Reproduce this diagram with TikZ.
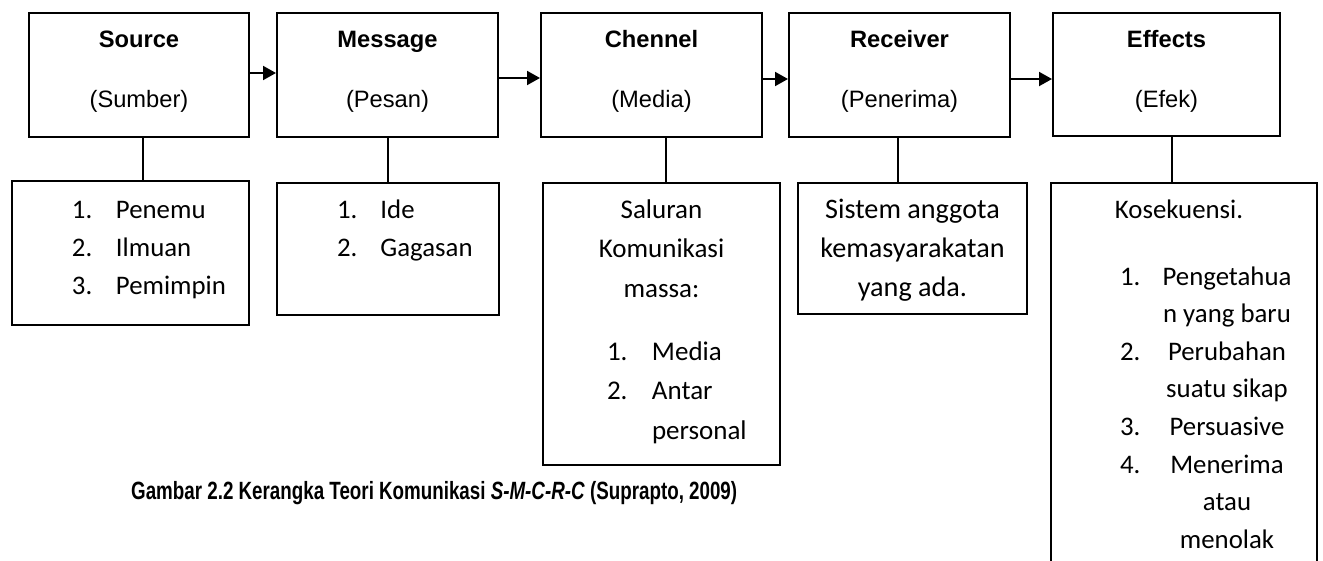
\documentclass[tikz,border=0pt]{standalone}
\usepackage{fontspec}
\setmainfont{Carlito}
\newfontfamily\arial{Liberation Sans}
\usepackage{graphicx}
\usetikzlibrary{arrows.meta}
\newcommand{\mktop}[4]{\parbox[t][#2][t]{#1}{\centering\arial\fontsize{23.7}{60}\selectfont\rule{0pt}{34pt}\textbf{#3}\\#4}}
\newcommand{\itm}[4]{\hspace*{#1}\makebox[#2][l]{#3}#4}
\tikzset{
  topbox/.style={draw, line width=2pt, inner sep=0pt, anchor=north west},
  lowbox/.style={draw, line width=2pt, inner sep=0pt, anchor=north west},
  link/.style={line width=2pt},
  arr/.style={line width=2pt, -{Triangle[length=13pt,width=14pt]}}
}
\begin{document}
\begin{tikzpicture}[x=1pt,y=-1pt]
\useasboundingbox (0,0) rectangle (1323,560);
\fill[white] (0,0) rectangle (1323,560);
\clip (0,0) rectangle (1323,560);
% top boxes
\node[topbox] (sT) at (28,12) {\mktop{220pt}{124pt}{Source}{(Sumber)}};
\node[topbox] (mT) at (276,12) {\mktop{221pt}{124pt}{Message}{(Pesan)}};
\node[topbox] (cT) at (540,12) {\mktop{221pt}{124pt}{Chennel}{(Media)}};
\node[topbox] (rT) at (788,12) {\mktop{221pt}{124pt}{Receiver}{(Penerima)}};
\node[topbox] (eT) at (1052,12) {\mktop{227pt}{123pt}{Effects}{(Efek)}};
% lower boxes
\node[lowbox] (sL) at (11,180) {\parbox[t][144pt][t]{237pt}{\fontsize{26.8}{38}\selectfont\lineskiplimit=-100pt
\rule{0pt}{37pt}\itm{60pt}{44pt}{1.}{Penemu}\\
\itm{60pt}{44pt}{2.}{Ilmuan}\\
\itm{60pt}{44pt}{3.}{Pemimpin}}};
\node[lowbox] (mL) at (276,182) {\parbox[t][132pt][t]{222pt}{\fontsize{26.8}{38}\selectfont\lineskiplimit=-100pt
\rule{0pt}{35pt}\itm{60pt}{43.5pt}{1.}{Ide}\\
\itm{60pt}{43.5pt}{2.}{Gagasan}}};
\node[lowbox] (cL) at (542,182) {\parbox[t][282pt][t]{237pt}{\fontsize{27}{39.5}\selectfont\lineskiplimit=-100pt
\rule{0pt}{35pt}\makebox[237pt][c]{Saluran}\\
\makebox[237pt][c]{Komunikasi}\\
\makebox[237pt][c]{massa:}\\[23.5pt]
\itm{64pt}{45pt}{1.}{Media}\\
\itm{64pt}{45pt}{2.}{Antar}\\
\itm{109pt}{0pt}{}{personal}}};
\node[lowbox] (rL) at (797,182) {\parbox[t][131pt][t]{229pt}{\centering\fontsize{28.2}{39}\selectfont\lineskiplimit=-100pt
\rule{0pt}{35pt}Sistem anggota\\
kemasyarakatan\\
yang ada.}};
\node[lowbox] (eL) at (1050,182) {\parbox[t][420pt][t]{266pt}{\fontsize{26.8}{37.6}\selectfont\lineskiplimit=-100pt
\rule{0pt}{35pt}\makebox[256pt][c]{Kosekuensi.}\\[29.4pt]
\itm{69pt}{43pt}{1.}{\makebox[128pt][c]{Pengetahua}}\\
\itm{112pt}{0pt}{}{\makebox[128pt][c]{n yang baru}}\\
\itm{69pt}{43pt}{2.}{\makebox[128pt][c]{Perubahan}}\\
\itm{112pt}{0pt}{}{\makebox[128pt][c]{suatu sikap}}\\
\itm{69pt}{43pt}{3.}{\makebox[128pt][c]{Persuasive}}\\
\itm{69pt}{43pt}{4.}{\makebox[128pt][c]{Menerima}}\\
\itm{112pt}{0pt}{}{\makebox[128pt][c]{atau}}\\
\itm{112pt}{0pt}{}{\makebox[128pt][c]{menolak}}}};
% arrows between top boxes
\draw[arr] ([yshift=2pt]sT.east) -- ([yshift=2pt]sT.east -| mT.west);
\draw[arr] ([yshift=-3pt]mT.east) -- ([yshift=-3pt]mT.east -| cT.west);
\draw[arr] ([yshift=-4pt]cT.east) -- ([yshift=-4pt]cT.east -| rT.west);
\draw[arr] ([yshift=-4pt]rT.east) -- ([yshift=-4pt]rT.east -| eT.west);
% vertical links
\draw[link] ([xshift=4pt]sT.south) -- ([xshift=4pt]sT.south |- sL.north);
\draw[link] (mT.south) -- (mT.south |- mL.north);
\draw[link] ([xshift=14.5pt]cT.south) -- ([xshift=14.5pt]cT.south |- cL.north);
\draw[link] ([xshift=-1.5pt]rT.south) -- ([xshift=-1.5pt]rT.south |- rL.north);
\draw[link] ([xshift=5.5pt]eT.south) -- ([xshift=5.5pt]eT.south |- eL.north);
% caption
\node[anchor=base west, inner sep=0pt] (cap) at (131,499) {\arial\bfseries\fontsize{25}{30}\selectfont\resizebox{606pt}{!}{\scalebox{1}[1.33]{Gambar 2.2 Kerangka Teori Komunikasi \textit{S-M-C-R-C} (Suprapto, 2009)}}};
\end{tikzpicture}
\end{document}
